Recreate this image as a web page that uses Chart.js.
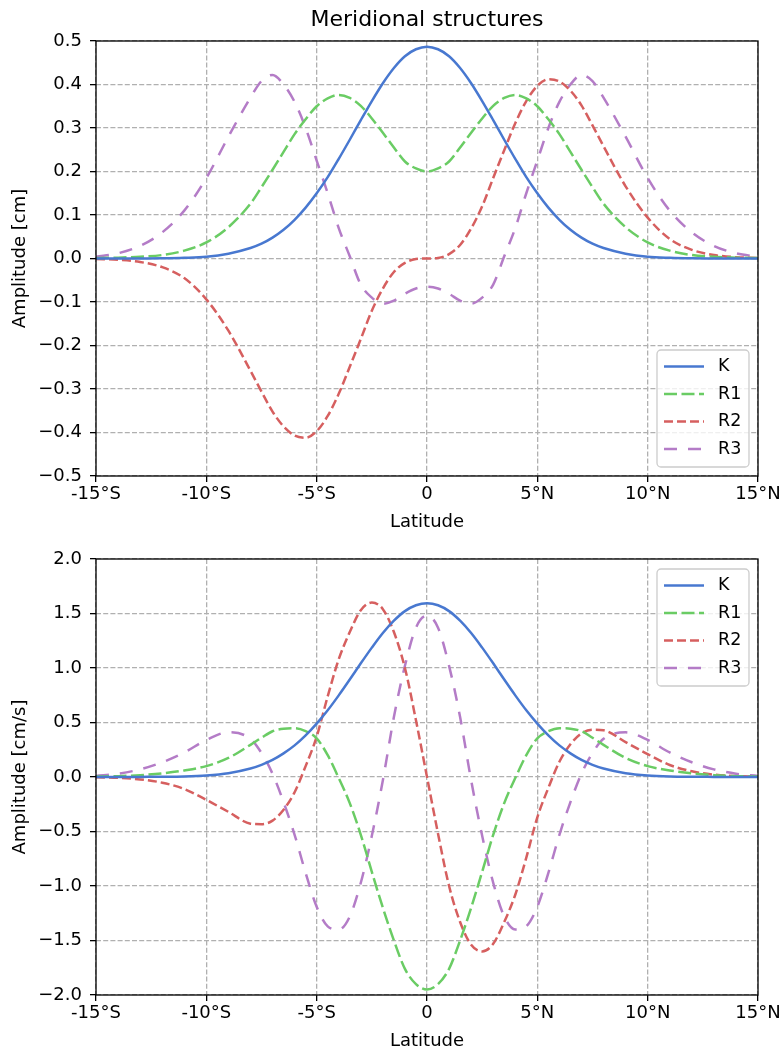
<!DOCTYPE html>
<html>
<head>
<meta charset="utf-8">
<script src="https://cdn.jsdelivr.net/npm/chart.js@4.4.0/dist/chart.umd.min.js"></script>
<style>
  html, body { margin: 0; padding: 0; background: #fff; }
  canvas { position: absolute; left: 0; }
  #heightChart { top: 0; }
  #velocityChart { top: 538px; }
</style>
</head>
<body>
<canvas id="heightChart" width="783" height="538"></canvas>
<canvas id="velocityChart" width="783" height="516"></canvas>
<script>
// Latitudes (degrees, negative = south), finer near the equator
const latitudes = [-15, -14, -13, -12, -11, -10, -9,
                   -8, -7.5, -7, -6.5, -6, -5.5, -5, -4.5, -4, -3.5, -3, -2.5, -2, -1.5, -1, -0.5,
                   0,
                   0.5, 1, 1.5, 2, 2.5, 3, 3.5, 4, 4.5, 5, 5.5, 6, 6.5, 7, 7.5, 8,
                   9, 10, 11, 12, 13, 14, 15];

// Top panel: amplitude [cm]
const kHeight = [0, 0, 0.0002, 0.0005, 0.0016, 0.004, 0.011,
                 0.024, 0.034, 0.048, 0.066, 0.089, 0.117, 0.150, 0.187, 0.229, 0.273, 0.318, 0.362, 0.403, 0.438, 0.465, 0.481,
                 0.487,
                 0.481, 0.465, 0.438, 0.403, 0.362, 0.318, 0.273, 0.229, 0.187, 0.150, 0.117, 0.089, 0.066, 0.048, 0.034, 0.024,
                 0.011, 0.004, 0.0016, 0.0005, 0.0002, 0, 0];
const r1Height = [0.001, 0.002, 0.004, 0.008, 0.018, 0.037, 0.072,
                  0.126, 0.164, 0.204, 0.245, 0.286, 0.32, 0.35, 0.368, 0.376, 0.369, 0.351, 0.322, 0.289, 0.255, 0.223, 0.207,
                  0.2,
                  0.207, 0.223, 0.255, 0.289, 0.322, 0.351, 0.369, 0.376, 0.368, 0.35, 0.32, 0.286, 0.245, 0.204, 0.164, 0.126,
                  0.072, 0.037, 0.018, 0.008, 0.004, 0.002, 0.001];
const r2Height = [-0.001, -0.003, -0.008, -0.02, -0.045, -0.094, -0.166,
                  -0.258, -0.306, -0.352, -0.386, -0.407, -0.412, -0.397, -0.362, -0.311, -0.249, -0.185, -0.12, -0.069, -0.031, -0.01, -0.0013,
                  0,
                  0.0013, 0.01, 0.031, 0.069, 0.12, 0.185, 0.249, 0.311, 0.362, 0.397, 0.412, 0.407, 0.386, 0.352, 0.306, 0.258,
                  0.166, 0.094, 0.045, 0.02, 0.008, 0.003, 0.001];
const r3Height = [0.004, 0.012, 0.029, 0.06, 0.11, 0.185, 0.28,
                  0.37, 0.408, 0.422, 0.40, 0.36, 0.30, 0.225, 0.15, 0.07, 0.005, -0.06, -0.09, -0.104, -0.097, -0.081, -0.069,
                  -0.065,
                  -0.069, -0.081, -0.097, -0.104, -0.09, -0.06, 0.005, 0.07, 0.15, 0.225, 0.30, 0.36, 0.40, 0.422, 0.408, 0.37,
                  0.28, 0.185, 0.11, 0.06, 0.029, 0.012, 0.004];

// Bottom panel: amplitude [cm/s]
const kVelocity = [0, 0, 0.001, 0.002, 0.005, 0.014, 0.035,
                   0.078, 0.112, 0.157, 0.217, 0.29, 0.382, 0.49, 0.612, 0.749, 0.894, 1.043, 1.187, 1.321, 1.434, 1.522, 1.576,
                   1.595,
                   1.576, 1.522, 1.434, 1.321, 1.187, 1.043, 0.894, 0.749, 0.612, 0.49, 0.382, 0.29, 0.217, 0.157, 0.112, 0.078,
                   0.035, 0.014, 0.005, 0.002, 0.001, 0, 0];
const r1Velocity = [0.004, 0.008, 0.017, 0.033, 0.06, 0.1, 0.175,
                    0.295, 0.36, 0.42, 0.443, 0.447, 0.42, 0.355, 0.2, -0.01, -0.24, -0.53, -0.87, -1.2, -1.5, -1.76, -1.9,
                    -1.95,
                    -1.9, -1.76, -1.5, -1.2, -0.87, -0.53, -0.24, -0.01, 0.2, 0.355, 0.42, 0.447, 0.443, 0.42, 0.36, 0.295,
                    0.175, 0.1, 0.06, 0.033, 0.017, 0.008, 0.004];
const r2Velocity = [-0.002, -0.008, -0.022, -0.052, -0.11, -0.21, -0.32,
                    -0.428, -0.433, -0.40, -0.30, -0.14, 0.1, 0.37, 0.74, 1.08, 1.33, 1.53, 1.6, 1.54, 1.33, 1.0, 0.52,
                    0,
                    -0.52, -1.0, -1.33, -1.54, -1.6, -1.53, -1.33, -1.08, -0.74, -0.37, -0.1, 0.14, 0.30, 0.40, 0.433, 0.428,
                    0.32, 0.21, 0.11, 0.052, 0.022, 0.008, 0.002];
const r3Velocity = [0.01, 0.03, 0.07, 0.135, 0.225, 0.34, 0.41,
                    0.35, 0.22, 0.03, -0.23, -0.53, -0.88, -1.19, -1.37, -1.40, -1.28, -0.97, -0.54, -0.03, 0.55, 1.02, 1.37,
                    1.48,
                    1.37, 1.02, 0.55, -0.03, -0.54, -0.97, -1.28, -1.40, -1.37, -1.19, -0.88, -0.53, -0.23, 0.03, 0.22, 0.35,
                    0.41, 0.34, 0.225, 0.135, 0.07, 0.03, 0.01];

const seriesNames = ['K', 'R1', 'R2', 'R3'];
const seriesColors = ['#4878d0', '#6acc64', '#d65f5f', '#b47cc7'];
const seriesDashes = [[], [13, 4.5], [9, 4], [13, 11]];

const FONT = "'DejaVu Sans', sans-serif";

function latLabel(v) {
    if (v < 0) return v + '°S';
    if (v > 0) return v + '°N';
    return '0';
}

function ampLabel(v) {
    const s = Math.abs(v) < 1e-9 ? '0.0' : v.toFixed(1);
    return s.replace('-', '\u2212');
}

// black box round the plot area
const framePlugin = {
    id: 'frame',
    afterDatasetsDraw(chart) {
        const a = chart.chartArea;
        const ctx = chart.ctx;
        ctx.save();
        ctx.strokeStyle = '#000';
        ctx.lineWidth = 1.3;
        ctx.strokeRect(a.left, a.top, a.right - a.left, a.bottom - a.top);
        ctx.restore();
    }
};

// matplotlib-like legend inside the axes
const boxLegendPlugin = {
    id: 'boxLegend',
    afterDraw(chart, args, opts) {
        const a = chart.chartArea;
        const ctx = chart.ctx;
        const w = 92, h = 117;
        const x = a.right - 9 - w;
        const y = opts.where === 'lower right' ? a.bottom - 9 - h : a.top + 10;
        ctx.save();
        ctx.beginPath();
        ctx.roundRect(x, y, w, h, 4);
        ctx.fillStyle = 'rgba(255,255,255,0.8)';
        ctx.fill();
        ctx.strokeStyle = '#cccccc';
        ctx.lineWidth = 1.3;
        ctx.stroke();
        chart.data.datasets.forEach((ds, i) => {
            const rowY = y + 16.5 + i * 27.5;
            ctx.beginPath();
            ctx.setLineDash(ds.borderDash);
            ctx.strokeStyle = ds.borderColor;
            ctx.lineWidth = 2.5;
            ctx.moveTo(x + 7, rowY);
            ctx.lineTo(x + 47, rowY);
            ctx.stroke();
            ctx.setLineDash([]);
            ctx.fillStyle = '#000';
            ctx.font = '17.5px ' + FONT;
            ctx.textBaseline = 'middle';
            ctx.fillText(ds.label, x + 61, rowY);
        });
        ctx.restore();
    }
};

function createPanel(canvasId, cfg) {
    const ctx = document.getElementById(canvasId).getContext('2d');
    const axisFont = { family: FONT, size: 18 };
    return new Chart(ctx, {
        type: 'line',
        data: {
            datasets: cfg.series.map((vals, i) => ({
                label: seriesNames[i],
                data: latitudes.map((lat, j) => ({ x: lat, y: vals[j] })),
                borderColor: seriesColors[i],
                borderDash: seriesDashes[i],
                borderWidth: 2.5,
                pointRadius: 0,
                cubicInterpolationMode: 'monotone',
                fill: false
            }))
        },
        options: {
            responsive: false,
            animation: false,
            layout: { padding: cfg.padding },
            plugins: {
                legend: { display: false },
                tooltip: { enabled: false },
                title: {
                    display: !!cfg.title,
                    text: cfg.title || '',
                    fullSize: false,
                    color: '#000',
                    font: { family: FONT, size: 22, weight: 'normal' },
                    padding: { top: 6.8, bottom: 7.8 }
                },
                boxLegend: { where: cfg.legendAt }
            },
            scales: {
                x: {
                    type: 'linear',
                    min: -15,
                    max: 15,
                    afterFit: (s) => { s.height = cfg.xAxisHeight; },
                    ticks: { stepSize: 5, callback: latLabel, color: '#000', font: axisFont, padding: 2, maxRotation: 0 },
                    grid: { color: '#b0b0b0', lineWidth: 1.3, tickColor: '#000', tickLength: 6, tickWidth: 1.3, tickBorderDash: [] },
                    border: { display: false, dash: [5, 2.2] },
                    title: { display: true, text: 'Latitude', color: '#000', font: axisFont, padding: { top: 0, bottom: cfg.xTitlePad } }
                },
                y: {
                    min: cfg.yMin,
                    max: cfg.yMax,
                    afterFit: (s) => { s.width = 96; },
                    ticks: { stepSize: cfg.yStep, callback: ampLabel, color: '#000', font: axisFont, padding: 8 },
                    grid: { color: '#b0b0b0', lineWidth: 1.3, tickColor: '#000', tickLength: 6, tickWidth: 1.3, tickBorderDash: [] },
                    border: { display: false, dash: [5, 2.2] },
                    title: { display: true, text: cfg.yTitle, color: '#000', font: axisFont, padding: { top: 9.2, bottom: 0 } }
                }
            }
        },
        plugins: [framePlugin, boxLegendPlugin]
    });
}

createPanel('heightChart', {
    title: 'Meridional structures',
    series: [kHeight, r1Height, r2Height, r3Height],
    yMin: -0.5, yMax: 0.5, yStep: 0.1,
    yTitle: 'Amplitude [cm]',
    legendAt: 'lower right',
    padding: { left: 0, right: 25, top: 0, bottom: 0 },
    xAxisHeight: 62,
    xTitlePad: 5.2
});

createPanel('velocityChart', {
    series: [kVelocity, r1Velocity, r2Velocity, r3Velocity],
    yMin: -2, yMax: 2, yStep: 0.5,
    yTitle: 'Amplitude [cm/s]',
    legendAt: 'upper right',
    padding: { left: 0, right: 25, top: 21, bottom: 0 },
    xAxisHeight: 59,
    xTitlePad: 2.2
});
</script>
</body>
</html>
